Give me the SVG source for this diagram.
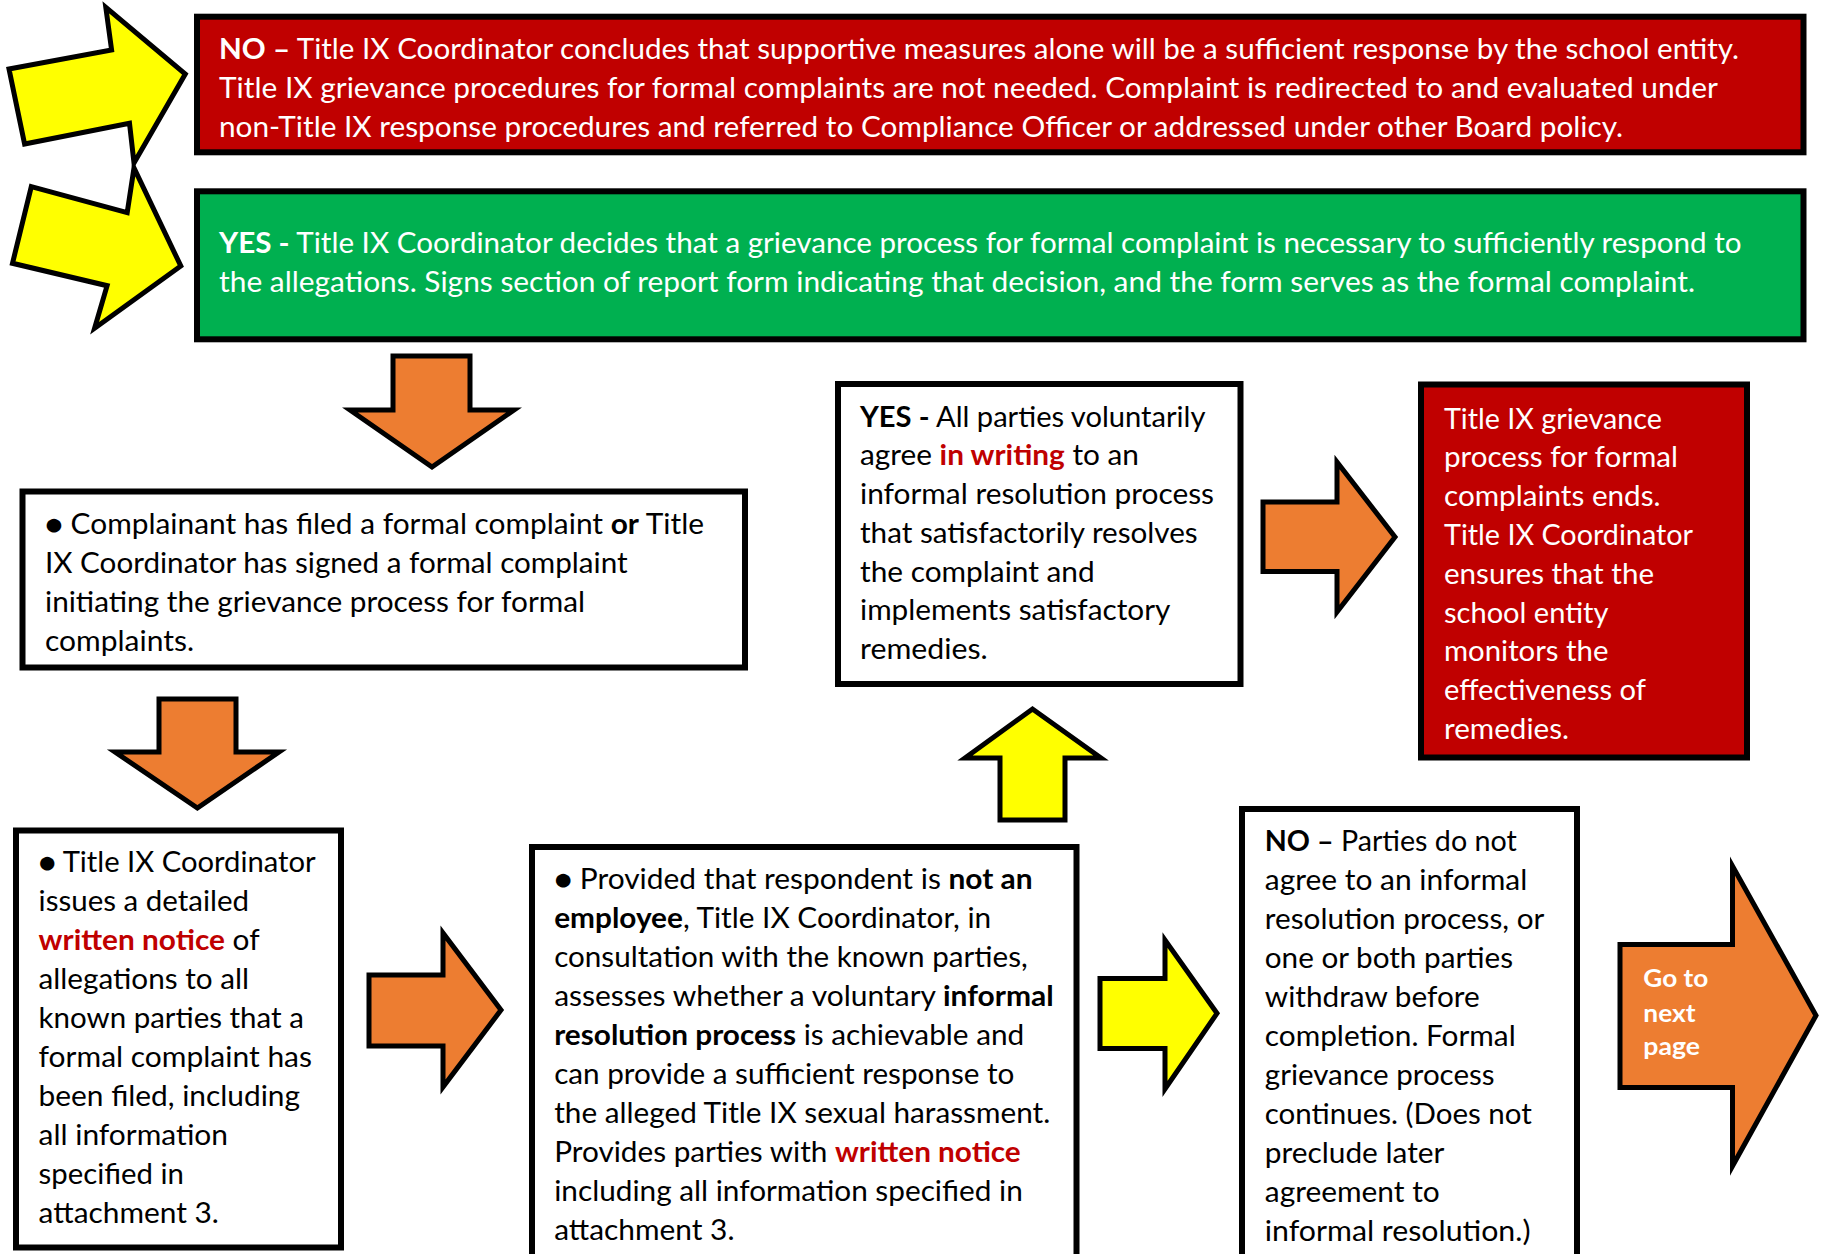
<svg xmlns="http://www.w3.org/2000/svg" width="1822" height="1254" viewBox="0 0 1822 1254">
<style>
  .box { stroke:#000; stroke-width:6; }
  .white { fill:#FFFFFF; }
  .red { fill:#C00000; }
  .green { fill:#00B050; }
  .arr { stroke:#000; stroke-width:5; stroke-linejoin:miter; stroke-miterlimit:10; }
  .yel { fill:#FFFF00; }
  .org { fill:#ED7D31; }
  text { font-family: Lato, "Open Sans", "DejaVu Sans", sans-serif; font-size:28px; }
  .tw { fill:#FFFFFF; }
  .tb { fill:#000000; }
  .b { font-weight:bold; }
  .hl { fill:#C00000; font-weight:bold; }
  .go { font-size:25.5px; font-weight:bold; fill:#FFFFFF; }
</style>
<rect width="1822" height="1254" fill="#FFFFFF"/>

<g id="connectors">
  <polygon class="arr yel" points="9,69 111.6,50 105.8,7.3 185.3,74 134,163 129.5,123.3 24.6,144"/>
  <polygon class="arr yel" points="31.3,186.7 127.2,212.7 134,168 180.8,266 94.6,328.3 107.1,285.7 12.5,263.3"/>
  <polygon class="arr org" points="393,356 470,356 470,410 514,410 432,467 350,410 393,410"/>
  <polygon class="arr org" points="159,699 236,699 236,752 279,752 197.4,808 115,752 159,752"/>
  <polygon class="arr org" points="369,975 443,975 443,933 501,1010 443,1087 443,1046 369,1046"/>
  <polygon class="arr yel" points="1000,820 1000,758 965,758 1032.5,709 1101,758 1065,758 1065,820"/>
  <polygon class="arr org" points="1263,502 1337,502 1337,462 1395,537 1337,612 1337,571.5 1263,571.5"/>
  <polygon class="arr yel" points="1100,978.5 1165,978.5 1165,940 1217,1013.3 1165,1089 1165,1048.5 1100,1048.5"/>
  <g id="goNext">
    <polygon class="arr org" points="1620,944.5 1732.5,944.5 1732.5,866 1816,1015.5 1732.5,1166 1732.5,1087.5 1620,1087.5"/>
    <text class="go" x="1643.3" y="986.5" textLength="65" lengthAdjust="spacingAndGlyphs">Go to</text>
    <text class="go" x="1643.3" y="1021.5" textLength="52.3" lengthAdjust="spacingAndGlyphs">next</text>
    <text class="go" x="1643.3" y="1055" textLength="56.7" lengthAdjust="spacingAndGlyphs">page</text>
  </g>
</g>

<g id="noSupportive">
  <rect class="box red" x="197" y="16.7" width="1606.5" height="135.6"/>
  <text class="tw" x="219" y="59" textLength="1520" lengthAdjust="spacingAndGlyphs"><tspan class="b">NO –</tspan> Title IX Coordinator concludes that supportive measures alone will be a sufficient response by the school entity.</text>
  <text class="tw" x="219" y="98" textLength="1499" lengthAdjust="spacingAndGlyphs">Title IX grievance procedures for formal complaints are not needed. Complaint is redirected to and evaluated under</text>
  <text class="tw" x="219" y="137" textLength="1404" lengthAdjust="spacingAndGlyphs">non-Title IX response procedures and referred to Compliance Officer or addressed under other Board policy.</text>
</g>

<g id="yesGrievance">
  <rect class="box green" x="197" y="191.3" width="1606.5" height="148"/>
  <text class="tw" x="219" y="253" textLength="1522.5" lengthAdjust="spacingAndGlyphs"><tspan class="b">YES -</tspan> Title IX Coordinator decides that a grievance process for formal complaint is necessary to sufficiently respond to</text>
  <text class="tw" x="219" y="291.5" textLength="1476" lengthAdjust="spacingAndGlyphs">the allegations. Signs section of report form indicating that decision, and the form serves as the formal complaint.</text>
</g>

<g id="formalComplaint">
  <rect class="box white" x="22.5" y="491.5" width="722.5" height="176"/>
  <text class="tb" x="45" y="533.5" textLength="659" lengthAdjust="spacingAndGlyphs">● Complainant has filed a formal complaint <tspan class="b">or</tspan> Title</text>
  <text class="tb" x="45" y="572.5" textLength="582.6" lengthAdjust="spacingAndGlyphs">IX Coordinator has signed a formal complaint</text>
  <text class="tb" x="45" y="611.5" textLength="540" lengthAdjust="spacingAndGlyphs">initiating the grievance process for formal</text>
  <text class="tb" x="45" y="650.5" textLength="149" lengthAdjust="spacingAndGlyphs">complaints.</text>
</g>

<g id="writtenNotice">
  <rect class="box white" x="16" y="830.5" width="325" height="417"/>
  <text class="tb" x="38.6" y="872" textLength="277" lengthAdjust="spacingAndGlyphs">● Title IX Coordinator</text>
  <text class="tb" x="38.6" y="911" textLength="210.4" lengthAdjust="spacingAndGlyphs">issues a detailed</text>
  <text class="tb" x="38.6" y="950" textLength="221" lengthAdjust="spacingAndGlyphs"><tspan class="hl">written notice</tspan> of</text>
  <text class="tb" x="38.6" y="989" textLength="210.4" lengthAdjust="spacingAndGlyphs">allegations to all</text>
  <text class="tb" x="38.6" y="1028" textLength="265.2" lengthAdjust="spacingAndGlyphs">known parties that a</text>
  <text class="tb" x="38.6" y="1067" textLength="273.4" lengthAdjust="spacingAndGlyphs">formal complaint has</text>
  <text class="tb" x="38.6" y="1106" textLength="261.4" lengthAdjust="spacingAndGlyphs">been filed, including</text>
  <text class="tb" x="38.6" y="1145" textLength="189.4" lengthAdjust="spacingAndGlyphs">all information</text>
  <text class="tb" x="38.6" y="1184" textLength="145.2" lengthAdjust="spacingAndGlyphs">specified in</text>
  <text class="tb" x="38.6" y="1223" textLength="180.3" lengthAdjust="spacingAndGlyphs">attachment 3.</text>
</g>

<g id="assessInformal">
  <rect class="box white" x="532" y="847" width="544.5" height="430"/>
  <text class="tb" x="554.2" y="889" textLength="478.4" lengthAdjust="spacingAndGlyphs">● Provided that respondent is <tspan class="b">not an</tspan></text>
  <text class="tb" x="554.2" y="928" textLength="437" lengthAdjust="spacingAndGlyphs"><tspan class="b">employee</tspan>, Title IX Coordinator, in</text>
  <text class="tb" x="554.2" y="967" textLength="473.5" lengthAdjust="spacingAndGlyphs">consultation with the known parties,</text>
  <text class="tb" x="554.2" y="1006" textLength="499.5" lengthAdjust="spacingAndGlyphs">assesses whether a voluntary <tspan class="b">informal</tspan></text>
  <text class="tb" x="554.2" y="1045" textLength="470" lengthAdjust="spacingAndGlyphs"><tspan class="b">resolution process</tspan> is achievable and</text>
  <text class="tb" x="554.2" y="1084" textLength="460.2" lengthAdjust="spacingAndGlyphs">can provide a sufficient response to</text>
  <text class="tb" x="554.2" y="1123" textLength="496" lengthAdjust="spacingAndGlyphs">the alleged Title IX sexual harassment.</text>
  <text class="tb" x="554.2" y="1162" textLength="466.5" lengthAdjust="spacingAndGlyphs">Provides parties with <tspan class="hl">written notice</tspan></text>
  <text class="tb" x="554.2" y="1201" textLength="468.6" lengthAdjust="spacingAndGlyphs">including all information specified in</text>
  <text class="tb" x="554.2" y="1240" textLength="180.3" lengthAdjust="spacingAndGlyphs">attachment 3.</text>
</g>

<g id="yesInformal">
  <rect class="box white" x="838" y="384" width="402.5" height="300"/>
  <text class="tb" x="860" y="426.5" textLength="345.5" lengthAdjust="spacingAndGlyphs"><tspan class="b">YES -</tspan> All parties voluntarily</text>
  <text class="tb" x="860" y="465.25" textLength="279" lengthAdjust="spacingAndGlyphs">agree <tspan class="hl">in writing</tspan> to an</text>
  <text class="tb" x="860" y="504" textLength="354" lengthAdjust="spacingAndGlyphs">informal resolution process</text>
  <text class="tb" x="860" y="542.75" textLength="337.7" lengthAdjust="spacingAndGlyphs">that satisfactorily resolves</text>
  <text class="tb" x="860" y="581.5" textLength="234.7" lengthAdjust="spacingAndGlyphs">the complaint and</text>
  <text class="tb" x="860" y="620.25" textLength="310.3" lengthAdjust="spacingAndGlyphs">implements satisfactory</text>
  <text class="tb" x="860" y="659" textLength="127.7" lengthAdjust="spacingAndGlyphs">remedies.</text>
</g>

<g id="processEnds">
  <rect class="box red" x="1421" y="384.5" width="326" height="373"/>
  <text class="tw" x="1444" y="428.5" textLength="217.8" lengthAdjust="spacingAndGlyphs">Title IX grievance</text>
  <text class="tw" x="1444" y="467.3" textLength="234" lengthAdjust="spacingAndGlyphs">process for formal</text>
  <text class="tw" x="1444" y="506.1" textLength="216.5" lengthAdjust="spacingAndGlyphs">complaints ends.</text>
  <text class="tw" x="1444" y="544.9" textLength="249" lengthAdjust="spacingAndGlyphs">Title IX Coordinator</text>
  <text class="tw" x="1444" y="583.7" textLength="210" lengthAdjust="spacingAndGlyphs">ensures that the</text>
  <text class="tw" x="1444" y="622.5" textLength="164.4" lengthAdjust="spacingAndGlyphs">school entity</text>
  <text class="tw" x="1444" y="661.3" textLength="164.4" lengthAdjust="spacingAndGlyphs">monitors the</text>
  <text class="tw" x="1444" y="700.1" textLength="202" lengthAdjust="spacingAndGlyphs">effectiveness of</text>
  <text class="tw" x="1444" y="738.9" textLength="125" lengthAdjust="spacingAndGlyphs">remedies.</text>
</g>

<g id="noInformal">
  <rect class="box white" x="1242" y="809" width="335" height="470"/>
  <text class="tb" x="1264.8" y="851" textLength="251.9" lengthAdjust="spacingAndGlyphs"><tspan class="b">NO –</tspan> Parties do not</text>
  <text class="tb" x="1264.8" y="890" textLength="262.5" lengthAdjust="spacingAndGlyphs">agree to an informal</text>
  <text class="tb" x="1264.8" y="929" textLength="279.5" lengthAdjust="spacingAndGlyphs">resolution process, or</text>
  <text class="tb" x="1264.8" y="968" textLength="248.2" lengthAdjust="spacingAndGlyphs">one or both parties</text>
  <text class="tb" x="1264.8" y="1007" textLength="215" lengthAdjust="spacingAndGlyphs">withdraw before</text>
  <text class="tb" x="1264.8" y="1046" textLength="250.9" lengthAdjust="spacingAndGlyphs">completion. Formal</text>
  <text class="tb" x="1264.8" y="1085" textLength="229.8" lengthAdjust="spacingAndGlyphs">grievance process</text>
  <text class="tb" x="1264.8" y="1124" textLength="267.1" lengthAdjust="spacingAndGlyphs">continues. (Does not</text>
  <text class="tb" x="1264.8" y="1163" textLength="179.6" lengthAdjust="spacingAndGlyphs">preclude later</text>
  <text class="tb" x="1264.8" y="1202" textLength="175" lengthAdjust="spacingAndGlyphs">agreement to</text>
  <text class="tb" x="1264.8" y="1241" textLength="265.7" lengthAdjust="spacingAndGlyphs">informal resolution.)</text>
</g>
</svg>
